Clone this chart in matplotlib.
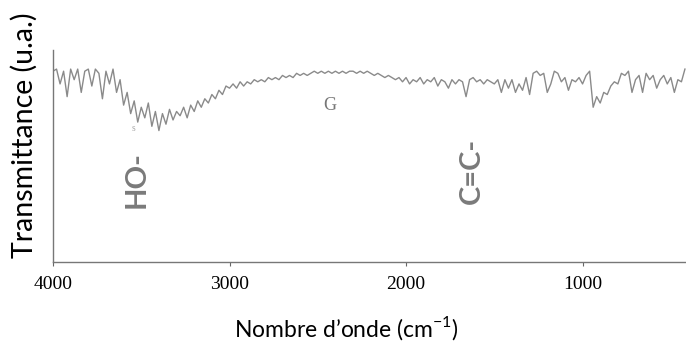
import numpy as np
import matplotlib
matplotlib.use("Agg")
import matplotlib.pyplot as plt

plt.rcParams["mathtext.fontset"] = "custom"
plt.rcParams["mathtext.rm"] = "Lato"

# nombre d'onde (cm-1), pas de 20
wavenumber = np.arange(4000, 419, -20)

# transmittance (u.a., 0-100)
transmittance = [
    90, 91, 84, 90, 78, 91, 86, 91, 80, 90, 91, 83, 91, 89, 77, 90, 84, 91, 80, 86,
    74, 80, 70, 76, 66, 73, 68, 75, 64, 71, 62, 70, 65, 72, 67, 71,
    69, 73, 68, 74, 71, 76, 73, 77, 75, 79, 77, 81, 79, 83, 82,
    84, 82, 85, 83, 85, 84, 86, 85, 86, 85, 87, 86, 87, 86, 88, 87, 88, 87, 89, 88,
    89, 88, 89, 90, 89, 90, 89, 90, 89, 90,
    89, 90, 89, 90, 90, 89, 90, 89, 90, 89, 88, 89, 88, 87, 88, 87, 86, 87, 85, 87,
    84, 86, 85, 87, 84,
    86, 85, 87, 83, 86, 85, 82, 86, 84, 86, 85, 78, 86, 87, 85, 86, 84, 86, 85, 84,
    86, 80, 86, 82,
    86, 80, 84, 81, 87, 79, 89, 90, 88, 89, 80, 84, 90, 89, 85, 87, 81, 86, 85, 87, 84,
    88, 90, 73, 78, 75, 80, 79, 83, 85, 84, 89, 88, 90, 80, 86, 88, 80, 89, 86, 88,
    82, 86, 88, 84, 87, 80, 86, 85, 91,
]

# annotations : (texte, nombre d'onde, transmittance)
bands = [("HO-", 3524, 39), ("C=C-", 1626, 43)]
sample_label = ("G", 2431, 74)

fig = plt.figure(figsize=(6.86, 3.45), dpi=100)
ax = fig.add_axes([53 / 686, 83 / 345, 633 / 686, 212 / 345])

ax.plot(wavenumber, transmittance, color="#8a8a8a", linewidth=1.0)

for txt, wn, t in bands:
    ax.text(wn, t, txt, rotation=90, ha="center", va="center",
            fontsize=21, fontweight="bold", color="#7a7a7a", family="Lato")

ax.text(sample_label[1], sample_label[2], sample_label[0], ha="center", va="center",
        fontsize=13, color="#777777", family="Liberation Serif")
ax.text(3545, 63, "s", ha="center", va="center", fontsize=7, color="#aaaaaa",
        family="Liberation Serif")

ax.set_xlim(4000, 414)
ax.set_ylim(0, 100)
ax.set_xticks([4000, 3000, 2000, 1000])
ax.set_yticks([])
ax.tick_params(axis="x", direction="out", length=3, color="#666666", pad=7,
               labelsize=14)
for lab in ax.get_xticklabels():
    lab.set_family("Liberation Serif")
for side in ["top", "right"]:
    ax.spines[side].set_visible(False)
for side in ["left", "bottom"]:
    ax.spines[side].set_color("#777777")
    ax.spines[side].set_linewidth(1.0)

fig.text(346 / 686, 1 - 328 / 345, "Nombre d’onde (cm$^{\\mathregular{-1}}$)",
         ha="center", va="center", fontsize=16.5, family="Lato")
fig.text(24 / 686, 1 - 135 / 345, "Transmittance (u.a.)", rotation=90,
         ha="center", va="center", fontsize=20.5, family="Lato")

fig.savefig("out.png", dpi=100)
